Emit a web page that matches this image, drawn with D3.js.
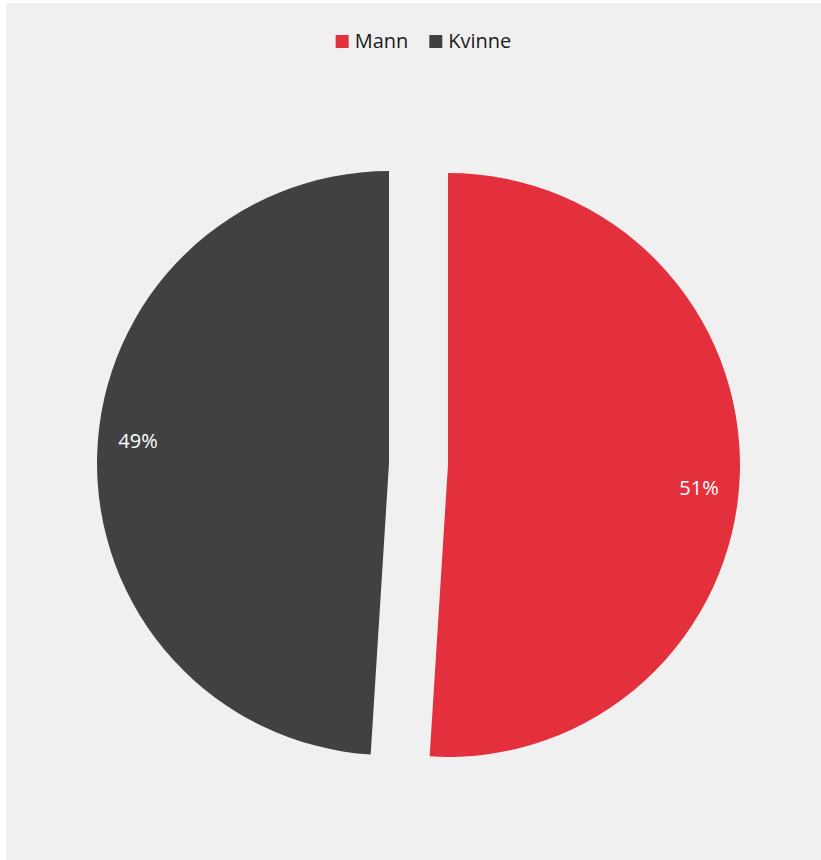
<!DOCTYPE html>
<html><head><meta charset="utf-8">
<script src="https://cdn.jsdelivr.net/npm/d3@7"></script>
<style>html,body{margin:0;padding:0;background:#fff;}svg{display:block;}</style>
</head><body>
<script>
const categories = ["Mann", "Kvinne"];
const values = [51, 49];
const labels = ["51%", "49%"];
const colors = ["#e3303c", "#414042"];

const W = 821, H = 860;
const svg = d3.select("body").append("svg").attr("width", W).attr("height", H);
svg.append("rect").attr("x", 6).attr("y", 3).attr("width", W - 6).attr("height", H - 3).attr("fill", "#f0f0f0");

const cx = 418.5, cy = 464, R = 292, explode = 29.5;
const pie = d3.pie().sort(null).value(d => d)(values);
const arc = d3.arc().innerRadius(0).outerRadius(R);
const font = "'Open Sans', 'Noto Sans', sans-serif";

const g = svg.append("g").attr("transform", `translate(${cx},${cy})`);
pie.forEach((p, i) => {
  const mid = (p.startAngle + p.endAngle) / 2;
  const ox = Math.sin(mid) * explode, oy = -Math.cos(mid) * explode;
  const sg = g.append("g").attr("transform", `translate(${ox},${oy})`);
  sg.append("path").attr("d", arc(p)).attr("fill", colors[i]);
  const la = mid + 0.057, lr = 252;
  sg.append("text").attr("x", Math.sin(la) * lr).attr("y", -Math.cos(la) * lr)
    .attr("text-anchor", "middle").attr("dominant-baseline", "central")
    .attr("fill", "#fff").attr("font-family", font).attr("font-size", 20)
    .text(labels[i]);
});

// legend
const lg = svg.append("g");
let x = 0;
categories.forEach((c, i) => {
  const it = lg.append("g").attr("transform", `translate(${x},0)`);
  it.append("rect").attr("x", 0).attr("y", 35).attr("width", 13).attr("height", 13).attr("fill", colors[i]);
  const t = it.append("text").attr("x", 19).attr("y", 48).attr("font-family", font).attr("font-size", 20)
    .attr("fill", "#1a1a1a").text(c);
  x += 19 + t.node().getComputedTextLength() + 21;
});
const bb = lg.node().getBBox();
lg.attr("transform", `translate(${423.5 - bb.width / 2},0)`);
</script>
</body></html>
